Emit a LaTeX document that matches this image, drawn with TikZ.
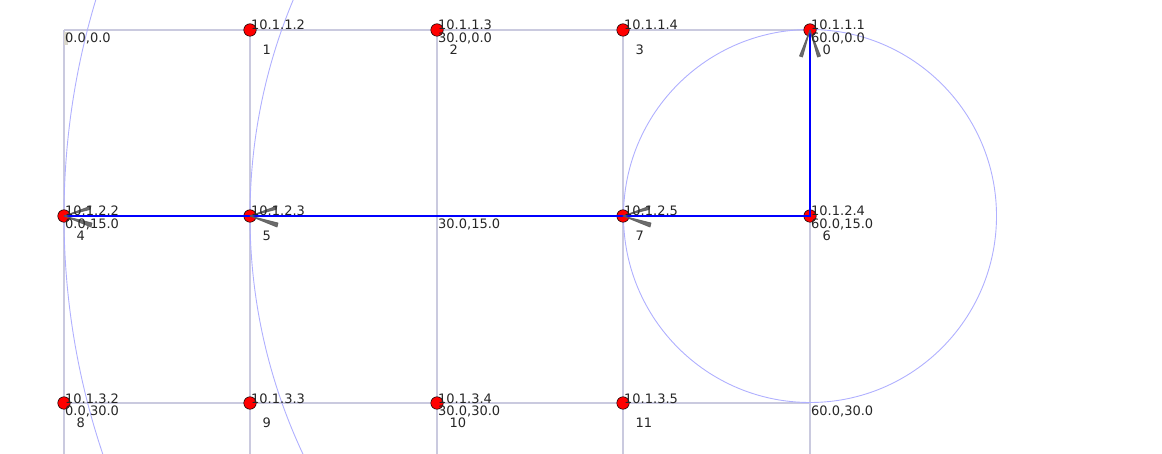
\documentclass[tikz,border=0pt]{standalone}
\usepackage{fontspec}
\setmainfont{DejaVu Sans}
\usetikzlibrary{calc}
\definecolor{gridc}{HTML}{CACADF}
\definecolor{circc}{HTML}{B0B0FF}
\definecolor{txtc}{HTML}{262626}
\definecolor{arrc}{HTML}{5C5C5C}
\definecolor{tagc}{HTML}{D9D6CC}
\begin{document}
\begin{tikzpicture}[x=1pt,y=-1pt,
  gridline/.style={draw=gridc,line width=1.8pt},
  ring/.style={draw=circc,line width=0.9pt},
  route/.style={draw=blue,line width=1.2pt},
  hostdot/.style={circle,fill=red,draw=black,line width=0.5pt,minimum size=12.5pt,inner sep=0pt},
  spot/.style={inner sep=0pt,outer sep=0pt,minimum size=0pt},
  lbl/.style={font=\fontsize{13}{13}\selectfont,text=txtc,inner sep=0pt,anchor=base west},
  arrowhd/.style={fill=arrc,draw=arrc,line width=0.8pt,line join=round,opacity=0.9}
]
\useasboundingbox (0,0) rectangle (1162,454);
% positions
\coordinate (c00) at (64,30);
\coordinate (c3015) at (437,216);
\coordinate (c6030) at (810,403);
\coordinate (b1) at (64,454);
\coordinate (b2) at (250,454);
\coordinate (b3) at (437,454);
\coordinate (b4) at (623,454);
\coordinate (b5) at (810,454);
\node[spot] (p0) at (810,30) {};
\node[spot] (p1) at (250,30) {};
\node[spot] (p2) at (437,30) {};
\node[spot] (p3) at (623,30) {};
\node[spot] (p4) at (64,216) {};
\node[spot] (p5) at (250,216) {};
\node[spot] (p6) at (810,216) {};
\node[spot] (p7) at (623,216) {};
\node[spot] (p8) at (64,403) {};
\node[spot] (p9) at (250,403) {};
\node[spot] (p10) at (437,403) {};
\node[spot] (p11) at (623,403) {};
% grid
\draw[gridline] (c00) -- (p0.center);
\draw[gridline] (p4.center) -- (p6.center);
\draw[gridline] (p8.center) -- (c6030);
\draw[gridline] (c00) -- (b1);
\draw[gridline] (p1.center) -- (b2);
\draw[gridline] (p2.center) -- (b3);
\draw[gridline] (p3.center) -- (b4);
\draw[gridline] (p0.center) -- (b5);
% range circles
\begin{scope}
\clip (0,0) rectangle (1162,454);
\draw[ring] (p6.center) circle[radius=186.5];
\draw[ring] (p6.center) circle[radius=560];
\draw[ring] (p6.center) circle[radius=746];
\end{scope}
% small tag
\fill[tagc] (64,32) rectangle (68,45);
% hosts
\foreach \i in {0,...,11} {\node[hostdot] (n\i) at (p\i.center) {};}
% route
\draw[route] (p4.center) -- (p6.center) -- (p0.center);
% arrowheads
\foreach \k in {4,5,7} {
  \draw[arrowhd] (p\k.center) -- ($(p\k)+(27,-10)$) -- ($(p\k)+(26,-6.5)$) -- cycle;
  \draw[arrowhd] (p\k.center) -- ($(p\k)+(28,7)$) -- ($(p\k)+(27,11)$) -- cycle;
}
\draw[arrowhd] (p0.center) -- ($(p0)+(-7.5,27)$) -- ($(p0)+(-10.5,26)$) -- cycle;
\draw[arrowhd] (p0.center) -- ($(p0)+(7.5,27)$) -- ($(p0)+(10.5,26)$) -- cycle;
% labels
\foreach \i/\ip in {0/10.1.1.1,1/10.1.1.2,2/10.1.1.3,3/10.1.1.4,4/10.1.2.2,5/10.1.2.3,6/10.1.2.4,7/10.1.2.5,8/10.1.3.2,9/10.1.3.3,10/10.1.3.4,11/10.1.3.5}
  {\node[lbl] (ip\i) at ($(p\i)+(1,0)$) {\ip};
   \node[lbl] (id\i) at ($(p\i)+(12.5,24.5)$) {\i};}
\node[lbl] (co0) at ($(p0)+(1,12.5)$) {60.0,0.0};
\node[lbl] (co2) at ($(p2)+(1,12.5)$) {30.0,0.0};
\node[lbl] (co4) at ($(p4)+(1,12.5)$) {0.0,15.0};
\node[lbl] (co6) at ($(p6)+(1,12.5)$) {60.0,15.0};
\node[lbl] (co8) at ($(p8)+(1,12.5)$) {0.0,30.0};
\node[lbl] (co10) at ($(p10)+(1,12.5)$) {30.0,30.0};
\node[lbl] (coa) at ($(c00)+(1,12.5)$) {0.0,0.0};
\node[lbl] (cob) at ($(c3015)+(1,12.5)$) {30.0,15.0};
\node[lbl] (coc) at ($(c6030)+(1,12.5)$) {60.0,30.0};
\end{tikzpicture}
\end{document}
